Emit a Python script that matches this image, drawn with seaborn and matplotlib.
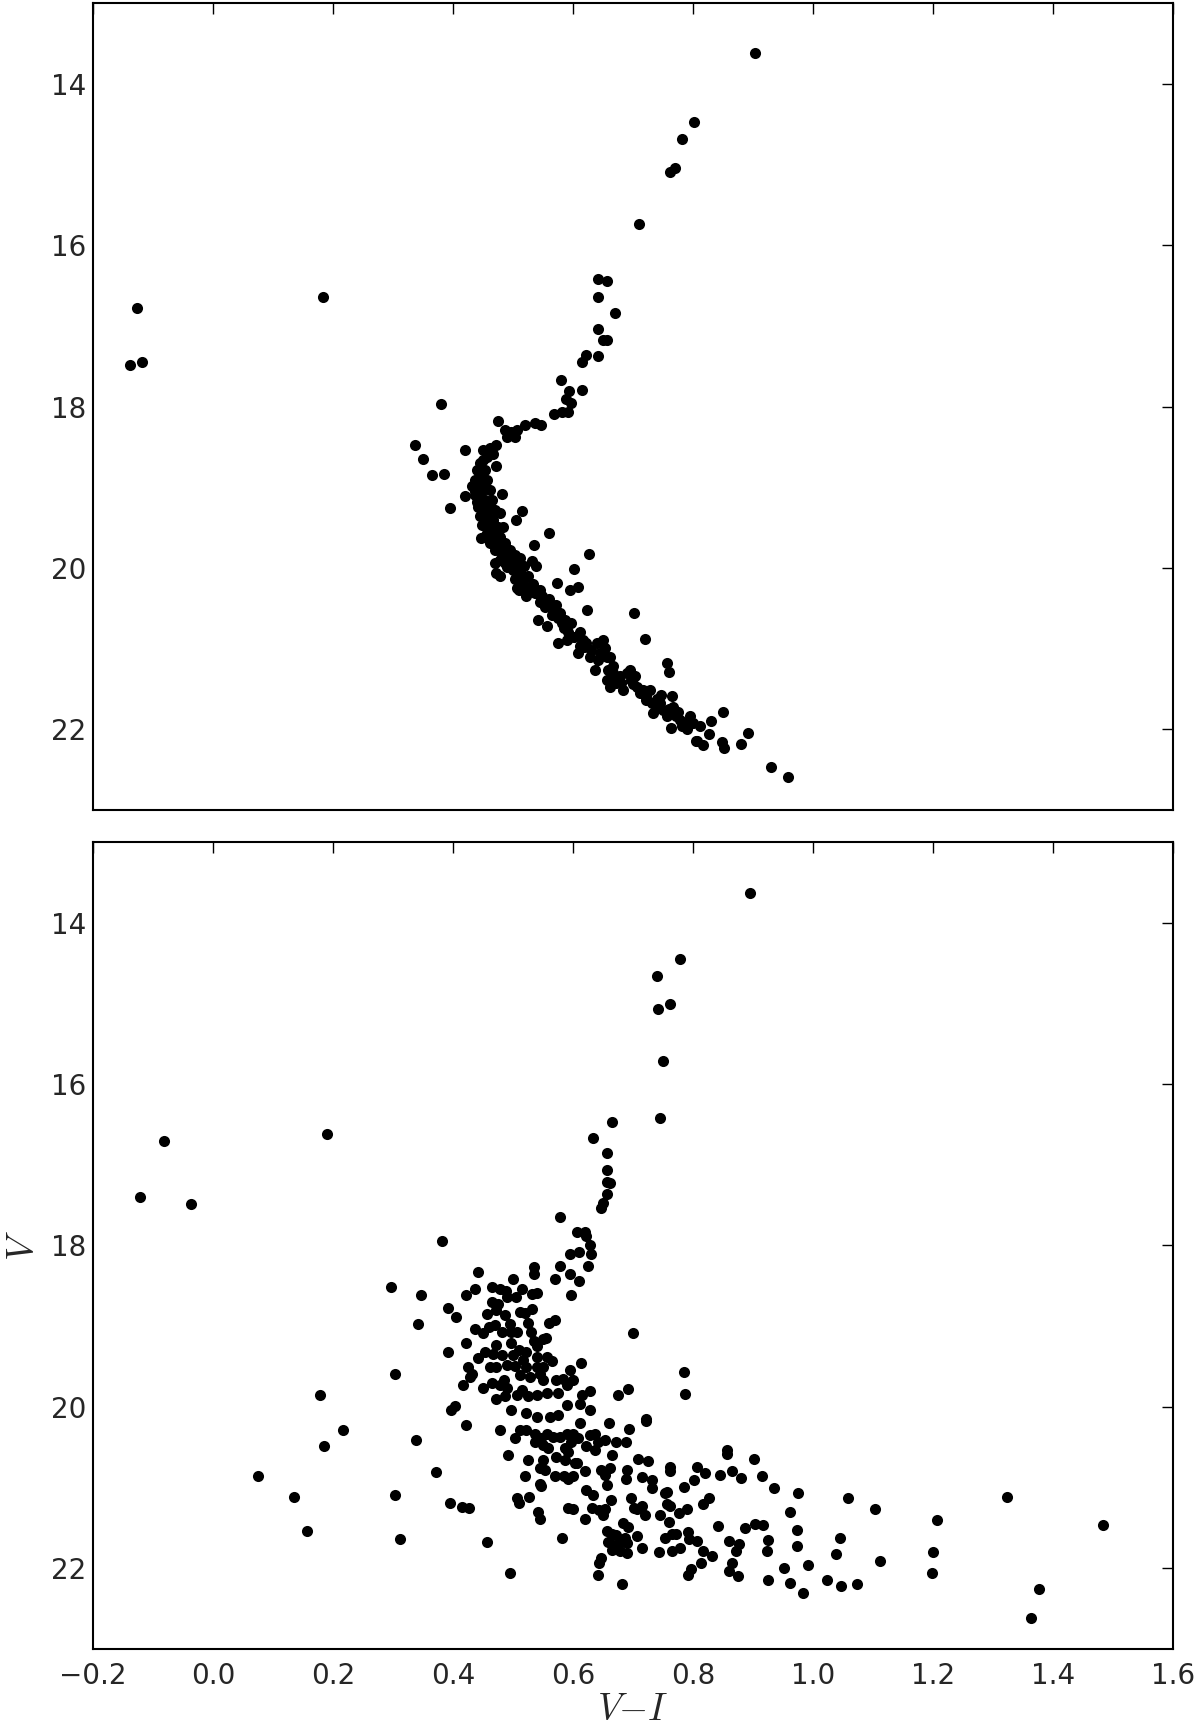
import numpy as np
import pandas as pd
import matplotlib
matplotlib.use("Agg")
import matplotlib.pyplot as plt
import seaborn as sns

# colour-magnitude diagram, two panels (same field, two reductions)
xticks = [-0.2, 0.0, 0.2, 0.4, 0.6, 0.8, 1.0, 1.2, 1.4, 1.6]
yticks = [14, 16, 18, 20, 22]

# ---- top panel, (V-I, V) pairs
top_giants = [(0.903, 13.62), (0.801, 14.47), (0.781, 14.68), (0.761, 15.09), (0.770, 15.04),
              (0.710, 15.73), (0.641, 16.42), (0.657, 16.44), (0.642, 16.64), (0.669, 16.84),
              (0.642, 17.03), (0.650, 17.17), (0.656, 17.17), (0.621, 17.36), (0.615, 17.44),
              (0.642, 17.37), (0.579, 17.67), (0.593, 17.80), (0.588, 17.90), (0.597, 17.95),
              (0.614, 17.79), (0.568, 18.09), (0.581, 18.07), (0.591, 18.06), (0.547, 18.23)]
top_blue = [(-0.126, 16.77), (-0.139, 17.48), (-0.119, 17.45), (0.183, 16.64)]
top_turnoff = [(0.380, 17.97), (0.474, 18.18), (0.486, 18.29), (0.496, 18.31), (0.506, 18.29),
               (0.489, 18.38), (0.503, 18.37), (0.520, 18.23), (0.536, 18.20), (0.336, 18.48),
               (0.349, 18.65), (0.364, 18.85), (0.385, 18.83), (0.394, 19.26), (0.420, 18.54),
               (0.420, 19.11), (0.450, 18.54), (0.461, 18.51), (0.472, 18.47), (0.467, 18.58),
               (0.456, 18.62), (0.472, 18.73), (0.432, 18.98), (0.436, 19.09), (0.481, 19.08),
               (0.515, 19.29), (0.505, 19.41), (0.560, 19.56), (0.534, 19.72), (0.626, 19.82),
               (0.531, 19.91), (0.538, 19.98), (0.602, 20.01), (0.573, 20.19), (0.595, 20.27),
               (0.608, 20.23), (0.447, 19.63), (0.478, 19.32)]
top_ridge_upper = [(0.445, 18.70), (0.450, 18.66), (0.439, 18.78), (0.448, 18.82), (0.453, 18.78),
                   (0.436, 18.91), (0.445, 18.91), (0.456, 18.91), (0.442, 18.99), (0.450, 19.03),
                   (0.461, 19.03), (0.445, 19.11), (0.453, 19.16), (0.464, 19.16), (0.442, 19.24),
                   (0.450, 19.28), (0.461, 19.24), (0.470, 19.28), (0.445, 19.36), (0.456, 19.36),
                   (0.467, 19.40), (0.448, 19.46), (0.461, 19.49), (0.475, 19.49), (0.483, 19.49),
                   (0.456, 19.57), (0.467, 19.59), (0.478, 19.61), (0.461, 19.69), (0.472, 19.71),
                   (0.486, 19.69), (0.470, 19.78), (0.481, 19.82), (0.495, 19.78), (0.503, 19.84),
                   (0.478, 19.90), (0.492, 19.92), (0.511, 19.88), (0.500, 20.02), (0.511, 20.06),
                   (0.517, 20.15), (0.506, 20.25), (0.525, 20.27), (0.539, 20.31), (0.548, 20.35),
                   (0.452, 18.98), (0.440, 19.18), (0.457, 19.45), (0.437, 19.05), (0.452, 19.62),
                   (0.458, 19.52), (0.465, 19.66), (0.475, 19.75), (0.488, 19.75), (0.484, 19.86),
                   (0.497, 19.88), (0.505, 19.95), (0.490, 19.99), (0.518, 19.98), (0.525, 20.10),
                   (0.515, 20.22), (0.533, 20.20)]
top_ridge_lower = [(0.472, 20.06), (0.478, 20.10), (0.470, 19.94), (0.486, 19.94), (0.500, 19.92),
                   (0.511, 20.02), (0.503, 20.13), (0.509, 20.27), (0.517, 20.19), (0.522, 20.35),
                   (0.528, 20.27), (0.536, 20.31), (0.545, 20.27), (0.550, 20.39), (0.542, 20.64),
                   (0.553, 20.48), (0.556, 20.72), (0.561, 20.44), (0.570, 20.52), (0.572, 20.46),
                   (0.575, 20.62), (0.578, 20.56), (0.581, 20.68), (0.574, 20.93), (0.586, 20.64),
                   (0.592, 20.79), (0.597, 20.68), (0.589, 20.89), (0.595, 20.85), (0.611, 20.79),
                   (0.608, 21.05), (0.611, 20.97), (0.617, 20.89), (0.622, 20.93), (0.628, 21.10),
                   (0.636, 21.26), (0.639, 20.93), (0.642, 21.14), (0.650, 20.89), (0.653, 20.99),
                   (0.656, 21.10), (0.661, 21.10), (0.658, 21.26), (0.667, 21.22), (0.670, 21.34),
                   (0.656, 21.39), (0.661, 21.47), (0.672, 21.43), (0.678, 21.34), (0.683, 21.51),
                   (0.689, 21.30), (0.695, 21.26), (0.697, 21.39), (0.703, 21.34), (0.706, 21.47),
                   (0.711, 21.55), (0.717, 21.51), (0.722, 21.63), (0.728, 21.51), (0.731, 21.67),
                   (0.733, 21.80), (0.739, 21.72), (0.745, 21.67), (0.747, 21.57), (0.750, 21.76),
                   (0.756, 21.84), (0.764, 21.59), (0.767, 21.72), (0.772, 21.84), (0.778, 21.88),
                   (0.781, 21.96), (0.786, 21.92), (0.789, 22.00), (0.794, 21.84), (0.800, 21.92),
                   (0.811, 21.96), (0.806, 22.15),
                   (0.545, 20.42), (0.560, 20.38), (0.565, 20.58), (0.585, 20.74), (0.602, 20.86),
                   (0.618, 20.98), (0.630, 21.02), (0.645, 21.05), (0.666, 21.30), (0.680, 21.42),
                   (0.700, 21.44), (0.722, 21.58), (0.740, 21.62), (0.760, 21.75), (0.775, 21.78)]
top_red_side = [(0.623, 20.52), (0.701, 20.56), (0.719, 20.88), (0.756, 21.18), (0.760, 21.29),
                (0.849, 21.78), (0.829, 21.90), (0.826, 22.06), (0.891, 22.04), (0.879, 22.18),
                (0.848, 22.16), (0.852, 22.23), (0.805, 22.14), (0.817, 22.19), (0.763, 21.98),
                (0.929, 22.47), (0.958, 22.59)]

# ---- bottom panel
bot_giants = [(0.894, 13.63), (0.778, 14.45), (0.739, 14.66), (0.761, 15.01), (0.741, 15.07),
              (0.750, 15.71), (0.744, 16.42), (0.665, 16.47), (0.633, 16.67), (0.657, 16.85),
              (0.657, 17.06), (0.656, 17.21), (0.661, 17.22), (0.657, 17.36), (0.650, 17.47),
              (0.646, 17.53), (0.578, 17.65), (0.606, 17.83), (0.620, 17.83), (0.622, 17.88),
              (0.628, 17.99), (0.595, 18.11), (0.610, 18.08), (0.630, 18.10), (0.625, 18.25)]
bot_blue = [(-0.121, 17.40), (-0.037, 17.48), (-0.082, 16.70), (0.190, 16.62), (0.381, 17.94)]
bot_turnoff = [(0.441, 18.33), (0.535, 18.27), (0.534, 18.35), (0.578, 18.26), (0.570, 18.42),
               (0.594, 18.35), (0.610, 18.44), (0.499, 18.41), (0.596, 18.61), (0.296, 18.51),
               (0.346, 18.61), (0.342, 18.97), (0.391, 18.78), (0.404, 18.88), (0.303, 19.59),
               (0.392, 19.32), (0.421, 19.21), (0.421, 18.61), (0.437, 18.54),
               (0.464, 18.51), (0.478, 18.54), (0.488, 18.57), (0.489, 18.64), (0.504, 18.64),
               (0.514, 18.54), (0.532, 18.60), (0.539, 18.59),
               (0.465, 18.70), (0.475, 18.73), (0.457, 18.85), (0.472, 18.80), (0.486, 18.86),
               (0.511, 18.82), (0.520, 18.84), (0.531, 18.79),
               (0.436, 19.03), (0.450, 19.08), (0.459, 19.01), (0.470, 18.99), (0.481, 19.07),
               (0.495, 18.97), (0.497, 19.07), (0.506, 19.07), (0.525, 18.96), (0.529, 19.07),
               (0.559, 18.96), (0.570, 18.92),
               (0.472, 19.23), (0.497, 19.21), (0.509, 19.30), (0.522, 19.32), (0.534, 19.18),
               (0.539, 19.25), (0.550, 19.16), (0.554, 19.15),
               (0.442, 19.39), (0.453, 19.32), (0.467, 19.34), (0.481, 19.36), (0.500, 19.36),
               (0.517, 19.42), (0.539, 19.38), (0.556, 19.38), (0.564, 19.43),
               (0.424, 19.50), (0.431, 19.59), (0.428, 19.63), (0.461, 19.51), (0.472, 19.50),
               (0.489, 19.48), (0.503, 19.49), (0.522, 19.50), (0.539, 19.50), (0.550, 19.50),
               (0.511, 19.61), (0.528, 19.63), (0.545, 19.59), (0.550, 19.67), (0.613, 19.45),
               (0.595, 19.54), (0.700, 19.08), (0.785, 19.57), (0.787, 19.84), (0.692, 19.78),
               (0.675, 19.85),
               (0.416, 19.73), (0.449, 19.76), (0.464, 19.70), (0.478, 19.73), (0.484, 19.67),
               (0.489, 19.77),
               (0.472, 19.90), (0.486, 19.87), (0.506, 19.85), (0.514, 19.79), (0.525, 19.87),
               (0.539, 19.85), (0.556, 19.83), (0.575, 19.83), (0.572, 19.67), (0.583, 19.66),
               (0.600, 19.67), (0.589, 19.73),
               (0.614, 19.85), (0.628, 19.80), (0.589, 19.98), (0.611, 19.97), (0.628, 20.04),
               (0.397, 20.04), (0.403, 19.99),
               (0.496, 20.04), (0.522, 20.08), (0.539, 20.12), (0.561, 20.12), (0.575, 20.10),
               (0.721, 20.15)]
bot_ms = [(0.478, 20.29), (0.503, 20.39), (0.511, 20.29), (0.522, 20.29), (0.536, 20.33),
          (0.547, 20.39), (0.536, 20.43), (0.556, 20.33), (0.567, 20.37), (0.578, 20.37),
          (0.589, 20.33), (0.600, 20.33), (0.608, 20.39), (0.597, 20.43),
          (0.550, 20.47), (0.558, 20.51), (0.572, 20.62), (0.586, 20.51), (0.592, 20.56),
          (0.586, 20.66), (0.606, 20.70),
          (0.611, 20.20), (0.628, 20.35), (0.636, 20.33), (0.642, 20.43), (0.636, 20.53),
          (0.622, 20.49), (0.653, 20.41), (0.660, 20.20),
          (0.672, 20.44), (0.688, 20.44), (0.693, 20.27), (0.664, 20.60), (0.721, 20.17),
          (0.492, 20.60),
          (0.525, 20.66), (0.550, 20.66), (0.545, 20.76), (0.553, 20.78), (0.570, 20.86),
          (0.584, 20.86), (0.592, 20.89), (0.600, 20.86), (0.603, 20.70),
          (0.520, 20.86), (0.545, 20.95), (0.547, 20.98),
          (0.620, 20.80), (0.647, 20.78), (0.653, 20.84), (0.656, 20.97), (0.661, 20.76),
          (0.689, 20.78), (0.688, 20.89), (0.708, 20.65), (0.725, 20.67), (0.715, 20.87),
          (0.731, 20.91), (0.731, 21.01),
          (0.506, 21.13), (0.509, 21.19), (0.527, 21.12), (0.542, 21.30), (0.545, 21.39),
          (0.592, 21.25), (0.600, 21.27), (0.621, 21.03), (0.633, 21.09), (0.631, 21.25),
          (0.643, 21.28), (0.653, 21.26), (0.650, 21.34), (0.663, 21.15), (0.620, 21.39),
          (0.697, 21.13), (0.701, 21.25), (0.714, 21.23), (0.706, 21.26), (0.720, 21.34),
          (0.683, 21.44), (0.692, 21.49), (0.656, 21.54), (0.664, 21.57), (0.672, 21.59),
          (0.686, 21.62), (0.658, 21.68), (0.667, 21.71), (0.678, 21.68), (0.689, 21.69),
          (0.664, 21.77), (0.678, 21.78), (0.689, 21.81), (0.707, 21.60), (0.715, 21.75),
          (0.743, 21.80), (0.764, 21.78), (0.778, 21.75),
          (0.642, 22.08), (0.643, 21.93), (0.647, 21.87), (0.682, 22.19), (0.582, 21.63),
          (0.456, 21.67), (0.494, 22.06)]
bot_red_side = [(0.761, 20.75), (0.762, 20.80), (0.784, 20.99), (0.801, 20.91), (0.806, 20.75),
                (0.819, 20.82), (0.845, 20.84), (0.864, 20.80), (0.879, 20.88), (0.856, 20.53),
                (0.857, 20.58), (0.902, 20.65), (0.914, 20.86), (0.934, 21.01), (0.975, 21.07),
                (0.753, 21.07), (0.756, 21.05), (0.757, 21.20), (0.762, 21.23), (0.760, 21.42),
                (0.745, 21.34), (0.777, 21.31), (0.790, 21.27), (0.817, 21.20), (0.827, 21.13),
                (0.842, 21.48), (0.886, 21.50), (0.903, 21.45), (0.917, 21.46), (0.961, 21.30),
                (0.753, 21.63), (0.764, 21.57), (0.771, 21.58), (0.792, 21.55), (0.793, 21.64),
                (0.806, 21.66), (0.817, 21.78), (0.832, 21.85), (0.813, 21.94),
                (0.860, 21.66), (0.876, 21.70), (0.872, 21.79), (0.865, 21.93), (0.860, 22.03),
                (0.875, 22.10), (0.925, 21.65), (0.923, 21.78), (0.925, 22.15), (0.951, 21.99),
                (0.961, 22.18), (0.972, 21.53), (0.973, 21.72), (0.792, 22.08), (0.796, 22.01),
                (0.991, 21.96), (0.983, 22.30), (1.057, 21.13), (1.045, 21.62), (1.037, 21.82),
                (1.022, 22.15), (1.046, 22.22), (1.072, 22.19), (1.103, 21.27), (1.111, 21.91),
                (1.206, 21.40), (1.199, 21.80), (1.197, 22.06), (1.323, 21.12), (1.483, 21.46),
                (1.376, 22.26), (1.363, 22.61)]
bot_blue_side = [(0.178, 19.85), (0.217, 20.28), (0.184, 20.48), (0.338, 20.41), (0.075, 20.85),
                 (0.135, 21.12), (0.157, 21.54), (0.303, 21.09), (0.312, 21.64), (0.421, 20.22),
                 (0.371, 20.81), (0.394, 21.19), (0.415, 21.24), (0.426, 21.25)]


def to_frame(*groups):
    rows = [p for g in groups for p in g]
    return pd.DataFrame(rows, columns=["vi", "v"])


top_df = to_frame(top_giants, top_blue, top_turnoff, top_ridge_upper, top_ridge_lower, top_red_side)
bot_df = to_frame(bot_giants, bot_blue, bot_turnoff, bot_ms, bot_red_side, bot_blue_side)

sns.set_style("white")
plt.rcParams["font.family"] = ["DejaVu Sans"]
plt.rcParams["mathtext.fontset"] = "cm"

fig = plt.figure(figsize=(12, 17.32), dpi=100)
ax1 = fig.add_axes([0.0775, 0.5323, 0.9004, 0.4657])
ax2 = fig.add_axes([0.0775, 0.0479, 0.9004, 0.4660])

for ax, df in [(ax1, top_df), (ax2, bot_df)]:
    sns.scatterplot(data=df, x="vi", y="v", ax=ax, color="black", s=64,
                    linewidth=0, legend=False)
    ax.set_xlim(-0.2, 1.6)
    ax.set_ylim(23, 13)
    ax.set_xticks(xticks)
    ax.set_yticks(yticks)
    ax.tick_params(direction="in", length=8, width=1, top=True, right=True,
                   labelsize=20, color="black")
    ax.tick_params(axis="x", pad=9)
    ax.tick_params(axis="y", pad=5)
    for sp in ax.spines.values():
        sp.set_linewidth(1.5)
        sp.set_color("black")
    ax.set_xlabel("")
    ax.set_ylabel("")

ax1.tick_params(labelbottom=False)
ax2.set_xlabel(r"$V\mathrm{-}I$", fontsize=27, labelpad=2)
ax2.set_ylabel(r"$V$", fontsize=27, labelpad=6)

fig.savefig("out.png", dpi=100, facecolor="white")
